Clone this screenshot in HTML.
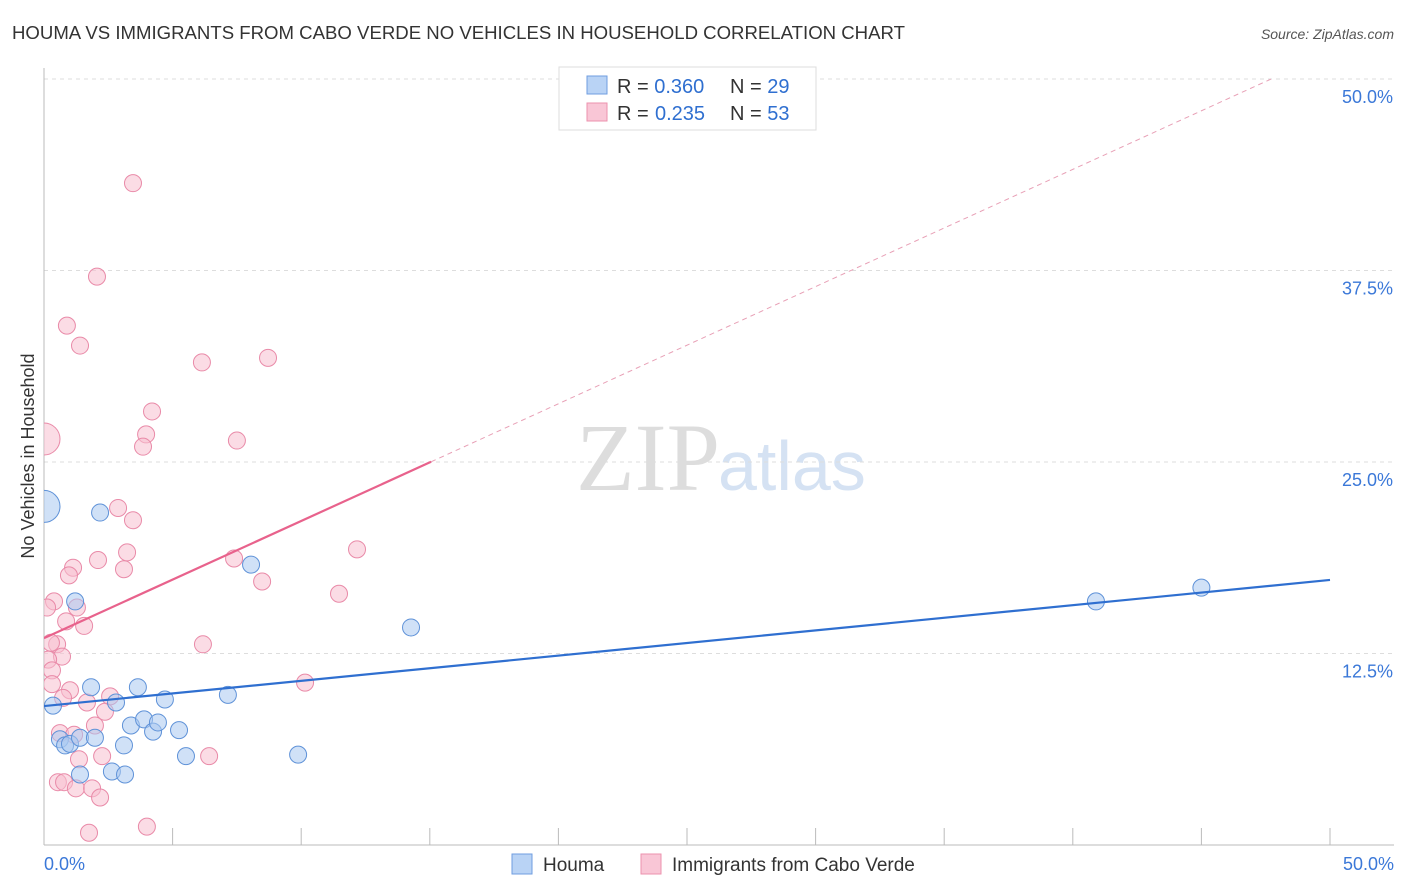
<!DOCTYPE html>
<html><head><meta charset="utf-8"><style>
body{margin:0;background:#fff;font-family:"Liberation Sans",sans-serif;}
svg{display:block}
</style></head><body>
<svg id="c" width="1406" height="892">
<defs><clipPath id="plot"><rect x="44" y="60" width="1360" height="785"/></clipPath></defs>
<text x="12" y="39" font-size="18.6" fill="#333">HOUMA VS IMMIGRANTS FROM CABO VERDE NO VEHICLES IN HOUSEHOLD CORRELATION CHART</text>
<text x="1394" y="39" font-size="14" fill="#555" font-style="italic" text-anchor="end">Source: ZipAtlas.com</text>
<text x="34" y="456" font-size="18" fill="#333" transform="rotate(-90 34 456)" text-anchor="middle">No Vehicles in Household</text>
<text x="720" y="490" font-size="96" fill="#ddd" text-anchor="end" font-family="Liberation Serif,serif">ZIP</text>
<text x="718" y="490" font-size="70" fill="#d5e2f3">atlas</text>
<g id="grid"></g><g id="marks" clip-path="url(#plot)"></g>
<g>
<rect x="559" y="67" width="257" height="63" fill="#fff" stroke="#ddd"/>
<rect x="587" y="76" width="20" height="18" fill="#b9d3f5" stroke="#6f9ee0"/>
<rect x="587" y="103" width="20" height="18" fill="#f9c6d6" stroke="#ec92ae"/>
<text font-size="20" fill="#333"><tspan x="617" y="93">R = </tspan><tspan fill="#2f6fd0">0.360</tspan><tspan x="730">N = </tspan><tspan fill="#2f6fd0">29</tspan></text>
<text font-size="20" fill="#333"><tspan x="617" y="120">R = </tspan><tspan fill="#2f6fd0" x="655">0.235</tspan><tspan x="730">N = </tspan><tspan fill="#2f6fd0">53</tspan></text>
</g>
<g>
<rect x="512" y="854" width="20" height="20" fill="#b9d3f5" stroke="#6f9ee0"/>
<text x="543" y="871" font-size="19" fill="#333">Houma</text>
<rect x="641" y="854" width="20" height="20" fill="#f9c6d6" stroke="#ec92ae"/>
<text x="672" y="871" font-size="19" fill="#333">Immigrants from Cabo Verde</text>
</g>
</svg>
<script>
const yTicks=[12.5,25,37.5,50];
const yTickLabels=["12.5%","25.0%","37.5%","50.0%"];
const xLabels=["0.0%","50.0%"];
const blueX=[0,2.18,0.35,0.62,0.82,1.01,1.4,1.98,1.21,1.83,1.4,2.64,3.15,3.11,2.8,3.38,3.65,3.89,4.24,4.43,4.7,5.25,5.52,7.15,8.05,9.88,14.27,40.9,45.0];
const blueY=[22.1,21.7,9.1,6.9,6.5,6.6,7.0,7.0,15.9,10.3,4.6,4.8,4.6,6.5,9.3,7.8,10.3,8.2,7.4,8.0,9.5,7.5,5.8,9.8,18.3,5.9,14.2,15.9,16.8];
const pinkX=[0,3.46,2.06,0.89,1.4,6.14,8.71,4.2,3.97,3.85,7.5,2.88,3.46,12.17,3.23,2.1,3.11,1.13,0.97,7.39,8.48,11.47,0.39,0.12,1.28,0.86,1.56,6.18,0.51,0.27,0.7,0.16,0.31,0.31,1.01,0.74,2.57,1.67,2.37,1.98,0.62,1.17,2.26,1.36,6.42,10.15,0.54,0.78,1.24,1.87,2.18,1.75,4.0];
const pinkY=[26.5,43.2,37.1,33.9,32.6,31.5,31.8,28.3,26.8,26.0,26.4,22.0,21.2,19.3,19.1,18.6,18.0,18.1,17.6,18.7,17.2,16.4,15.9,15.5,15.5,14.6,14.3,13.1,13.1,13.2,12.3,12.1,11.4,10.5,10.1,9.6,9.7,9.3,8.7,7.8,7.3,7.2,5.8,5.6,5.8,10.6,4.1,4.1,3.7,3.7,3.1,0.8,1.2];
const blueTrend=[9.07,17.3];
const pinkTrend=[13.5,0.765];
const X=v=>44+v*25.72, Y=v=>845-v*15.32;
const NS="http://www.w3.org/2000/svg";
const grid=document.getElementById('grid'), marks=document.getElementById('marks');
function mk(tag,at,p){const e=document.createElementNS(NS,tag);for(const k in at)e.setAttribute(k,at[k]);p.appendChild(e);return e;}
yTicks.forEach((t,i)=>{
 const l=mk('line',{x1:44,x2:1394,y1:Y(t),y2:Y(t),stroke:'#ddd','stroke-dasharray':'4,4'},grid);
 
 
 const tx=mk('text',{x:1393,y:Y(t)+24,'font-size':18,fill:'#3b78d8','text-anchor':'end'},grid);tx.textContent=yTickLabels[i];
 
 
});
const ax=mk('line',{x1:44,x2:1394,y1:845,y2:845,stroke:'#bbb'},grid);


const ay=mk('line',{x1:44,x2:44,y1:68,y2:845,stroke:'#bbb'},grid);


for(let i=0;i<=10;i++){const t=mk('line',{x1:X(i*5),x2:X(i*5),y1:828,y2:845,stroke:'#bbb'},grid);
 
 }
[[0,'start',44],[50,'end',1394]].forEach((d,i)=>{const t=mk('text',{x:d[2],y:870,'font-size':18,fill:'#3b78d8','text-anchor':d[1]},grid);t.textContent=xLabels[i];
 
 });
function pts(xs,ys,fill,stroke,name){xs.forEach((x,i)=>{const r=i===0?16:8.5;
 const c=mk('circle',{cx:X(x),cy:Y(ys[i]),r:r,fill:fill,'fill-opacity':0.55,stroke:stroke,'stroke-width':1},marks);
 
 });}
pts(pinkX,pinkY,'#f7bfd0','#e98aa8','cabo-verde-point');
pts(blueX,blueY,'#aac8f0','#5f92d8','houma-point');
const bl=mk('line',{x1:X(0),y1:Y(blueTrend[0]),x2:X(50),y2:Y(blueTrend[1]),stroke:'#2f6fd0','stroke-width':2.2},marks);


const pEnd=15.05, pDash=(50-pinkTrend[0])/pinkTrend[1];
const pl=mk('line',{x1:X(0),y1:Y(pinkTrend[0]),x2:X(pEnd),y2:Y(pinkTrend[0]+pinkTrend[1]*pEnd),stroke:'#e8628c','stroke-width':2.2},marks);


const pd=mk('line',{x1:X(pEnd),y1:Y(pinkTrend[0]+pinkTrend[1]*pEnd),x2:X(pDash),y2:Y(50),stroke:'#e8a0b6','stroke-width':1,'stroke-dasharray':'5,4'},marks);


</script>
</body></html>
